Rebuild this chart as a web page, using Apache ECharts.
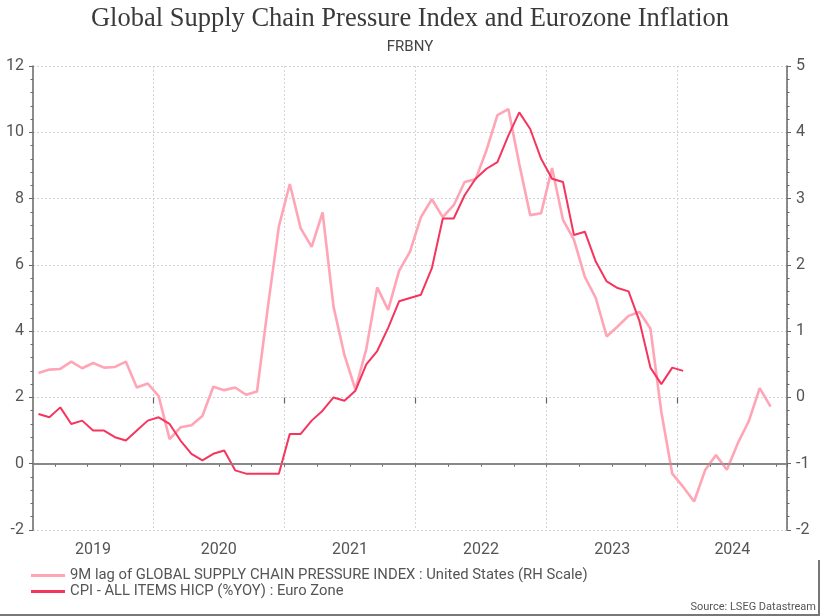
<!DOCTYPE html>
<html><head><meta charset="utf-8">
<script src="https://cdn.jsdelivr.net/npm/echarts@6/dist/echarts.min.js"></script>
<style>html,body{margin:0;padding:0;background:#fff}#c{width:820px;height:616px}</style>
</head><body><div id="c"></div>
<script>
// Monthly categories (Feb 2019 .. Oct 2024)
const months = [
 '2019-02','2019-03','2019-04','2019-05','2019-06','2019-07','2019-08','2019-09','2019-10','2019-11','2019-12',
 '2020-01','2020-02','2020-03','2020-04','2020-05','2020-06','2020-07','2020-08','2020-09','2020-10','2020-11','2020-12',
 '2021-01','2021-02','2021-03','2021-04','2021-05','2021-06','2021-07','2021-08','2021-09','2021-10','2021-11','2021-12',
 '2022-01','2022-02','2022-03','2022-04','2022-05','2022-06','2022-07','2022-08','2022-09','2022-10','2022-11','2022-12',
 '2023-01','2023-02','2023-03','2023-04','2023-05','2023-06','2023-07','2023-08','2023-09','2023-10','2023-11','2023-12',
 '2024-01','2024-02','2024-03','2024-04','2024-05','2024-06','2024-07','2024-08','2024-09','2024-10'
];
const yearLabels = ['2019','2020','2021','2022','2023','2024'];

// 9M lag of GSCPI (RH scale), Feb 2019 .. Sep 2024
const gscpiLag9 = [
 0.37,0.42,0.43,0.54,0.44,0.52,0.45,0.46,0.54,0.15,0.21,
 0.02,-0.63,-0.45,-0.42,-0.28,0.16,0.11,0.15,0.04,0.09,1.37,2.58,
 3.22,2.55,2.27,2.79,1.37,0.64,0.12,0.73,1.66,1.32,1.91,2.20,
 2.72,2.99,2.72,2.90,3.25,3.29,3.73,4.26,4.35,3.52,2.75,2.78,
 3.46,2.68,2.38,1.82,1.50,0.92,1.07,1.23,1.29,1.04,-0.22,-1.15,
 -1.35,-1.57,-1.10,-0.87,-1.09,-0.69,-0.36,0.14,-0.14
];
// Euro Zone HICP %YoY, Feb 2019 .. Jan 2024
const hicpYoY = [
 1.5,1.4,1.7,1.2,1.3,1.0,1.0,0.8,0.7,1.0,1.3,
 1.4,1.2,0.7,0.3,0.1,0.3,0.4,-0.2,-0.3,-0.3,-0.3,-0.3,
 0.9,0.9,1.3,1.6,2.0,1.9,2.2,3.0,3.4,4.1,4.9,5.0,
 5.1,5.9,7.4,7.4,8.1,8.6,8.9,9.1,9.9,10.6,10.1,9.2,
 8.6,8.5,6.9,7.0,6.1,5.5,5.3,5.2,4.3,2.9,2.4,2.9,
 2.8
];

const seriesNames = [
 '9M lag of GLOBAL SUPPLY CHAIN PRESSURE INDEX : United States (RH Scale)',
 'CPI - ALL ITEMS HICP (%YOY) : Euro Zone'
];

// year spans in band units, derived from categories
const yearFirst = {}, yearLast = {};
months.forEach((m, i) => {
  const y = m.slice(0, 4);
  if (!(y in yearFirst)) yearFirst[y] = i;
  yearLast[y] = i;
});
const yearCenters = yearLabels.map(y => (yearFirst[y] + yearLast[y] + 1) / 2);
const yearBounds = yearLabels.slice(1).map(y => yearFirst[y]);

const FONT = 'Roboto';
const axisGray = '#666';
const chart = echarts.init(document.getElementById('c'), null, {renderer: 'canvas'});
chart.setOption({
  backgroundColor: '#fff',
  animation: false,
  title: {
    text: 'Global Supply Chain Pressure Index and Eurozone Inflation',
    subtext: 'FRBNY',
    left: 'center', top: 1, itemGap: 7,
    textStyle: {fontFamily: 'Liberation Serif', fontSize: 26.5, fontWeight: 'normal', color: '#3a3a3a'},
    subtextStyle: {fontFamily: FONT, fontSize: 15, color: '#444'}
  },
  grid: {left: 33, right: 33, top: 66, bottom: 86, containLabel: false},
  legend: {
    orient: 'vertical', left: 26, top: 563, itemWidth: 34, itemHeight: 3, itemGap: 1,
    icon: 'rect',
    textStyle: {fontFamily: FONT, fontSize: 14.8, color: '#555'},
    data: seriesNames
  },
  graphic: [{
    type: 'text', right: 4, bottom: 3,
    style: {text: 'Source: LSEG Datastream', fontFamily: FONT, fontSize: 11, fill: '#555'}
  }, {
    type: 'rect', left: 0, bottom: 0, shape: {width: 820, height: 2}, style: {fill: '#777'}
  }, {
    type: 'rect', right: 0, bottom: 0, shape: {width: 2, height: 56}, style: {fill: '#777'}
  }],
  xAxis: [{
    type: 'category', data: months, boundaryGap: true, position: 'bottom',
    axisLine: {show: true, lineStyle: {color: axisGray, width: 1.5}},
    axisTick: {show: true, length: 3, lineStyle: {color: axisGray},
      interval: (i, v) => ['01','04','07','10'].includes(String(v).slice(5))},
    axisLabel: {show: false},
    splitLine: {show: true, lineStyle: {color: '#d4d4d4', type: [2, 2], width: 1},
      interval: (i, v) => String(v).slice(5) === '01'}
  }, {
    type: 'value', min: 0, max: months.length, position: 'bottom',
    axisLine: {show: false},
    axisTick: {show: true, length: 6, lineStyle: {color: axisGray, width: 1.2}, customValues: yearBounds},
    splitLine: {show: false},
    axisLabel: {show: true, customValues: yearCenters, margin: 12,
      fontFamily: FONT, fontSize: 16, color: '#555',
      formatter: v => {
        const k = yearCenters.findIndex(c => Math.abs(c - v) < 1e-6);
        return k >= 0 ? yearLabels[k] : '';
      }}
  }],
  yAxis: [{
    type: 'value', position: 'left', min: -2, max: 12, interval: 2,
    axisLine: {show: true, lineStyle: {color: axisGray, width: 1.5}},
    axisTick: {show: true, length: 4, lineStyle: {color: axisGray}},
    minorTick: {show: true, splitNumber: 5, length: 2.5, lineStyle: {color: axisGray}},
    splitLine: {show: true, lineStyle: {color: '#d4d4d4', type: [2, 2], width: 1}},
    axisLabel: {fontFamily: FONT, fontSize: 16, color: '#555', margin: 9}
  }, {
    type: 'value', position: 'right', min: -2, max: 5, interval: 1,
    axisLine: {show: true, lineStyle: {color: axisGray, width: 1.5}},
    axisTick: {show: true, length: 4, lineStyle: {color: axisGray}},
    minorTick: {show: true, splitNumber: 5, length: 2.5, lineStyle: {color: axisGray}},
    splitLine: {show: false},
    axisLabel: {fontFamily: FONT, fontSize: 16, color: '#555', margin: 9}
  }],
  series: [{
    name: seriesNames[0], type: 'line', xAxisIndex: 0, yAxisIndex: 1,
    data: gscpiLag9, symbol: 'none', color: '#FFA5B6',
    lineStyle: {width: 2.6, color: '#FFA5B6'}, z: 2
  }, {
    name: seriesNames[1], type: 'line', xAxisIndex: 0, yAxisIndex: 0,
    data: hicpYoY, symbol: 'none', color: '#F5355D',
    lineStyle: {width: 2, color: '#F5355D'}, z: 3,
    markLine: {silent: true, symbol: 'none', label: {show: false},
      lineStyle: {color: '#888', type: 'solid', width: 1.5},
      data: [{yAxis: 0}]}
  }]
});
</script>
</body></html>
